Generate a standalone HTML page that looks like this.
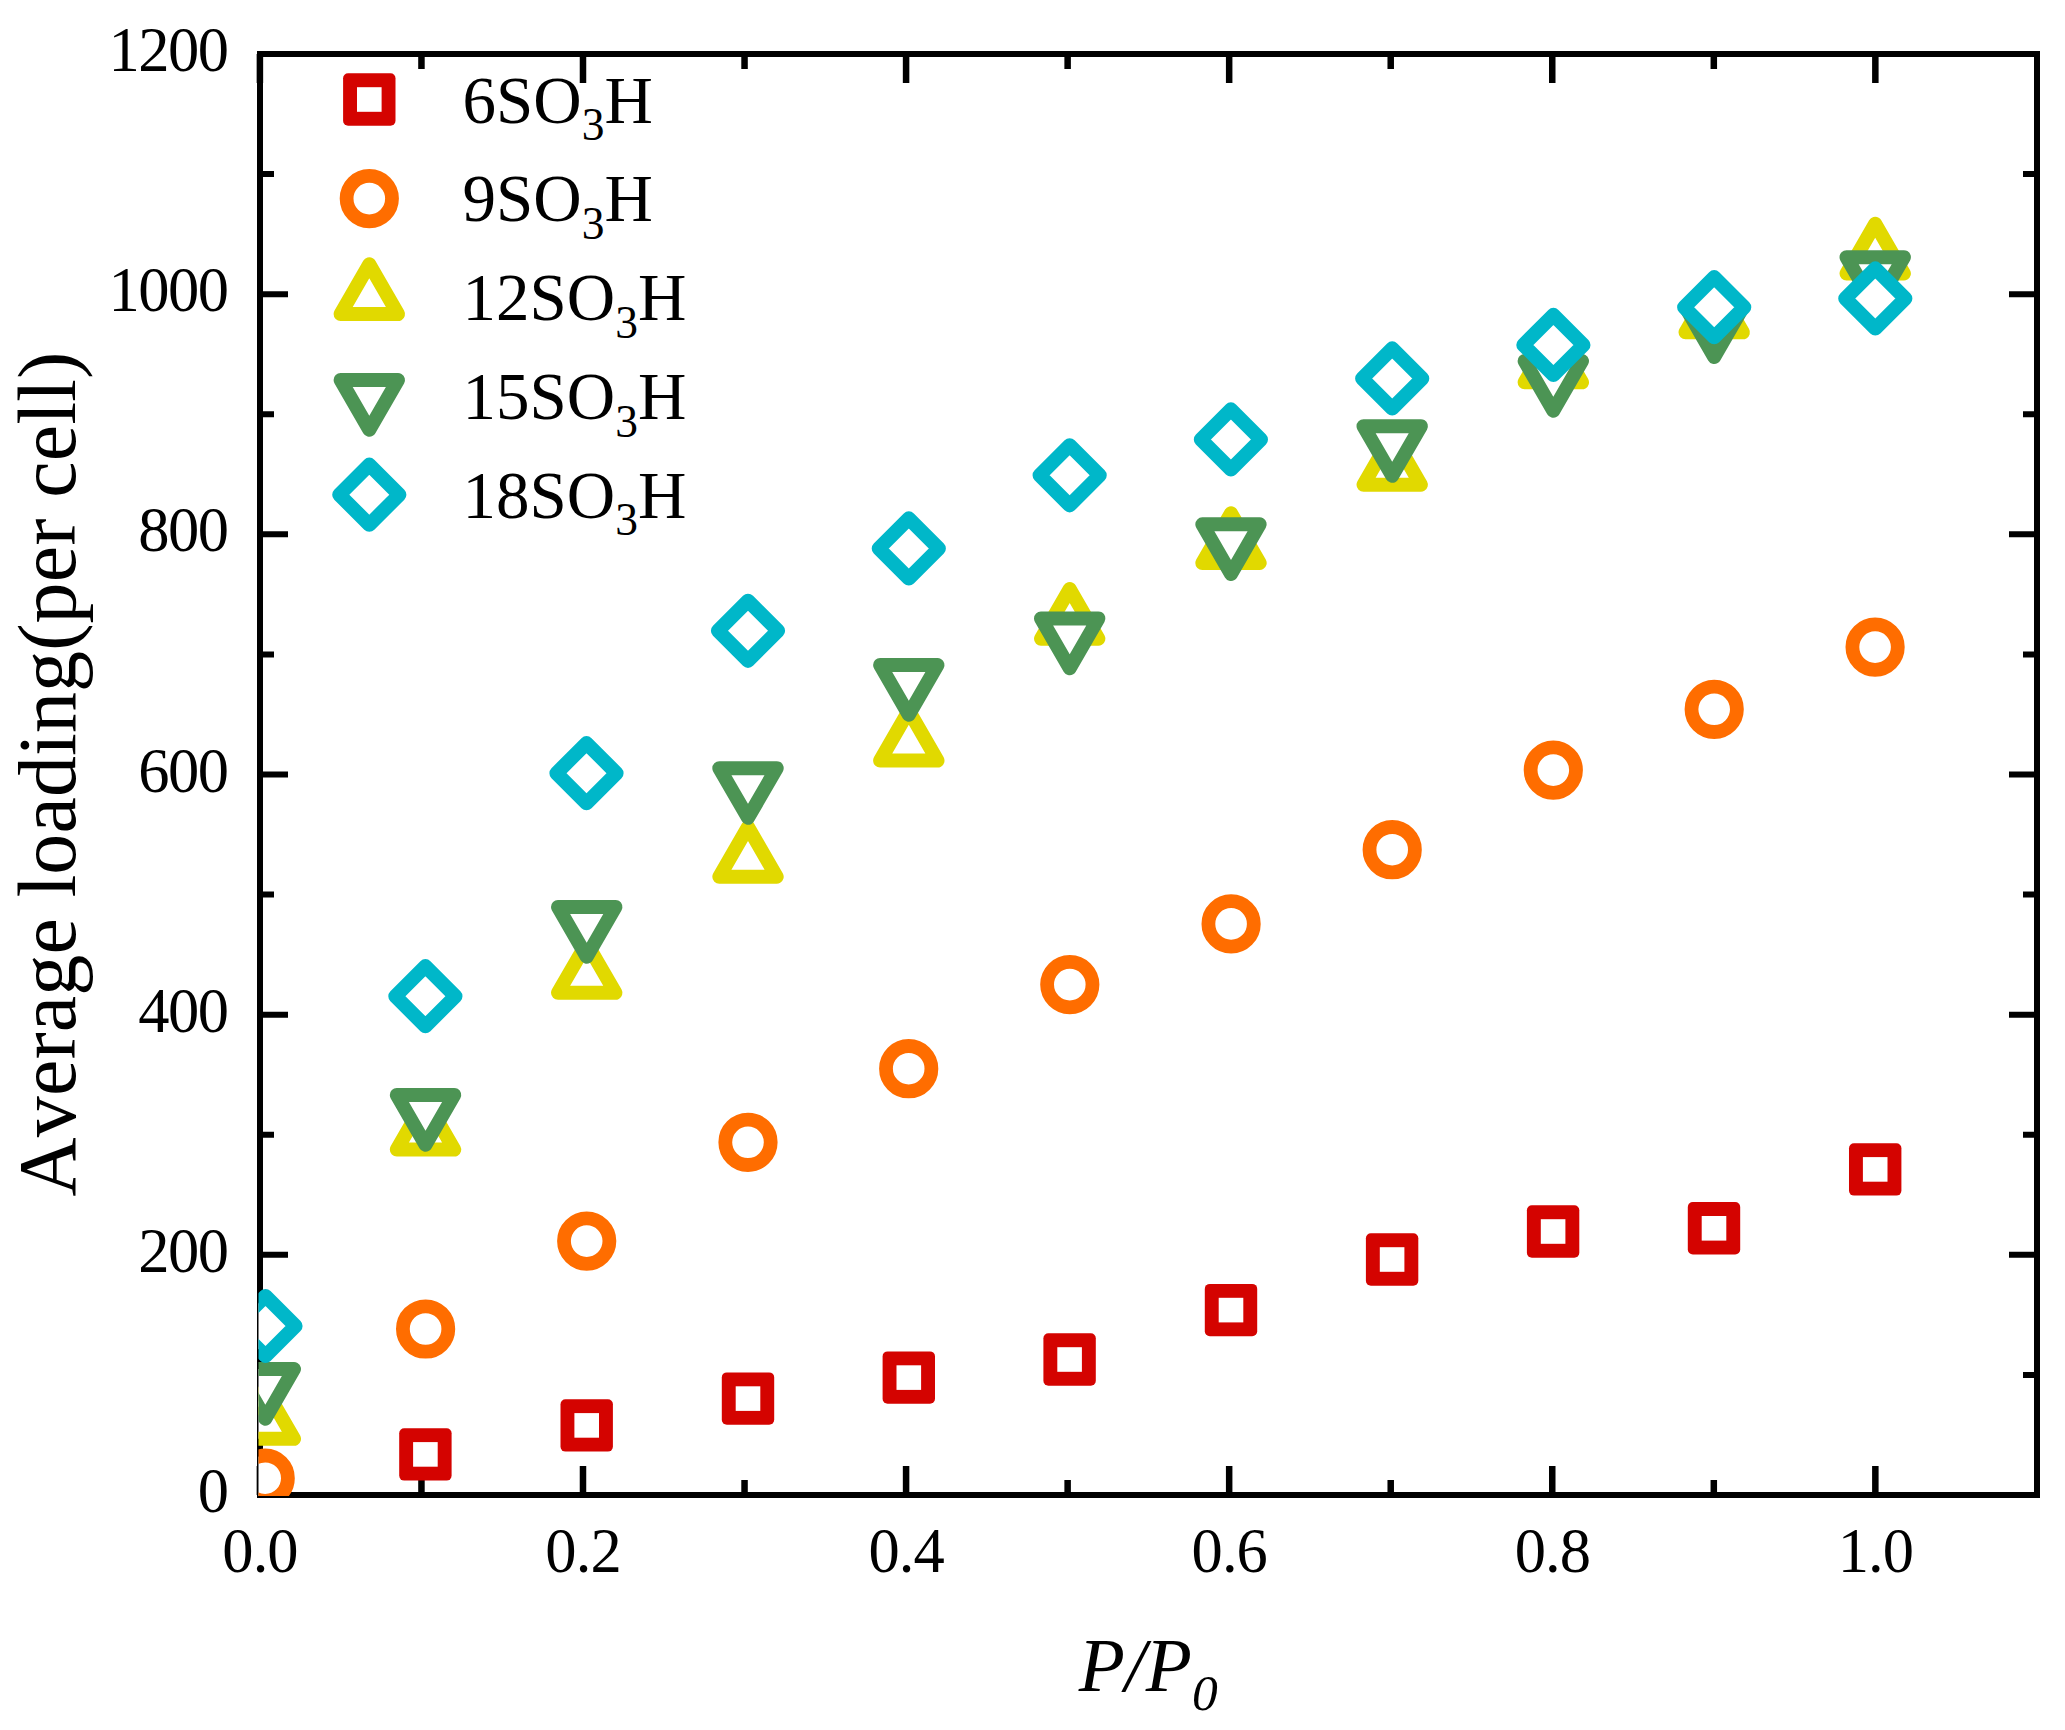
<!DOCTYPE html>
<html lang="en"><head><meta charset="utf-8"><title>Average loading vs P/P0</title>
<style>
html,body{margin:0;padding:0;background:#fff;}
body{width:2065px;height:1730px;overflow:hidden;}
svg{display:block;}
text{font-family:"Liberation Serif",serif;fill:#000;font-kerning:none;}
.tk{font-size:62.5px;}
.tx{letter-spacing:-0.9px;}
.ty{letter-spacing:-1.43px;}
.lg{font-size:67px;}
.sub{font-size:45.5px;}
</style></head><body>
<svg width="2065" height="1730" viewBox="0 0 2065 1730">
<defs>
<clipPath id="pc"><rect x="258.5" y="52.5" width="1780" height="1443.5"/></clipPath>
<g id="m-sq"><rect x="-26.2" y="-26.2" width="52.4" height="52.4" rx="5" ry="5" fill="currentColor"/><rect x="-12.3" y="-12.3" width="24.6" height="24.6" fill="#fff"/></g>
<circle id="m-ci" r="22.7" fill="#fff" stroke="currentColor" stroke-width="13.8"/>
<path id="m-up" d="M0 -33.15L28.7 16.57H-28.7Z" fill="#fff" stroke="currentColor" stroke-width="14" stroke-linejoin="round"/>
<path id="m-dn" d="M0 33.15L28.7 -16.57H-28.7Z" fill="#fff" stroke="currentColor" stroke-width="14" stroke-linejoin="round"/>
<path id="m-di" d="M0 -30L30 0L0 30L-30 0Z" fill="#fff" stroke="currentColor" stroke-width="14.2" stroke-linejoin="round"/>
</defs>
<rect width="2065" height="1730" fill="#fff"/>

<g stroke="#000" stroke-width="6" fill="none" stroke-linecap="butt">
<rect x="260.0" y="54.0" width="1777.0" height="1441.0"/>
<path stroke-width="6.5" d="M259.90 1495.0v-29M259.90 54.0v29M421.45 1495.0v-15M421.45 54.0v15M582.99 1495.0v-29M582.99 54.0v29M744.54 1495.0v-15M744.54 54.0v15M906.08 1495.0v-29M906.08 54.0v29M1067.63 1495.0v-15M1067.63 54.0v15M1229.17 1495.0v-29M1229.17 54.0v29M1390.72 1495.0v-15M1390.72 54.0v15M1552.26 1495.0v-29M1552.26 54.0v29M1713.81 1495.0v-15M1713.81 54.0v15M1875.35 1495.0v-29M1875.35 54.0v29"/>
<path d="M260.0 1495.00h28M2037.0 1495.00h-28M260.0 1374.92h14M2037.0 1374.92h-14M260.0 1254.83h28M2037.0 1254.83h-28M260.0 1134.75h14M2037.0 1134.75h-14M260.0 1014.67h28M2037.0 1014.67h-28M260.0 894.58h14M2037.0 894.58h-14M260.0 774.50h28M2037.0 774.50h-28M260.0 654.42h14M2037.0 654.42h-14M260.0 534.33h28M2037.0 534.33h-28M260.0 414.25h14M2037.0 414.25h-14M260.0 294.17h28M2037.0 294.17h-28M260.0 174.08h14M2037.0 174.08h-14M260.0 54.00h28M2037.0 54.00h-28"/>
</g>
<g class="tk tx" text-anchor="middle">
<text x="260.00" y="1571.6">0.0</text>
<text x="583.09" y="1571.6">0.2</text>
<text x="906.18" y="1571.6">0.4</text>
<text x="1229.27" y="1571.6">0.6</text>
<text x="1552.36" y="1571.6">0.8</text>
<text x="1875.45" y="1571.6">1.0</text>
</g>
<g class="tk ty" text-anchor="end">
<text x="227.7" y="1512.10">0</text>
<text x="227.7" y="1271.93">200</text>
<text x="227.7" y="1031.77">400</text>
<text x="227.7" y="791.60">600</text>
<text x="227.7" y="551.43">800</text>
<text x="227.7" y="311.27">1000</text>
<text x="227.7" y="71.10">1200</text>
</g>
<text transform="translate(74.8 774.1) rotate(-90)" text-anchor="middle" font-size="82" letter-spacing="0.1">Average loading(per cell)</text>
<text x="1078.7" y="1690.8" font-size="75.5" font-style="italic">P/P<tspan dy="19.5" dx="0" font-size="51.5">0</tspan></text>
<g clip-path="url(#pc)">
<g style="color:#D40300">
<use href="#m-sq" x="425.4" y="1454.4"/>
<use href="#m-sq" x="586.7" y="1425.4"/>
<use href="#m-sq" x="748" y="1398.6"/>
<use href="#m-sq" x="908.8" y="1377.6"/>
<use href="#m-sq" x="1069.6" y="1359.5"/>
<use href="#m-sq" x="1231" y="1310.1"/>
<use href="#m-sq" x="1392.1" y="1259.5"/>
<use href="#m-sq" x="1553.1" y="1231.5"/>
<use href="#m-sq" x="1714" y="1228.3"/>
<use href="#m-sq" x="1875.2" y="1169.4"/>
</g>
<g style="color:#FF6D00">
<use href="#m-ci" x="265.2" y="1478.2"/>
<use href="#m-ci" x="425.6" y="1329"/>
<use href="#m-ci" x="586.7" y="1241.1"/>
<use href="#m-ci" x="748" y="1142.3"/>
<use href="#m-ci" x="908.7" y="1068.7"/>
<use href="#m-ci" x="1069.8" y="984.6"/>
<use href="#m-ci" x="1231.1" y="923.9"/>
<use href="#m-ci" x="1392.2" y="849.7"/>
<use href="#m-ci" x="1553.3" y="770.1"/>
<use href="#m-ci" x="1714.2" y="709.3"/>
<use href="#m-ci" x="1875.1" y="647.1"/>
</g>
<g style="color:#E1D900">
<use href="#m-up" x="265.3" y="1422.3"/>
<use href="#m-up" x="425.5" y="1133"/>
<use href="#m-up" x="586.7" y="976.3"/>
<use href="#m-up" x="748" y="860.2"/>
<use href="#m-up" x="908.8" y="744.0"/>
<use href="#m-up" x="1069.7" y="622.2"/>
<use href="#m-up" x="1231" y="546.4"/>
<use href="#m-up" x="1392.2" y="468.2"/>
<use href="#m-up" x="1553.3" y="365.8"/>
<use href="#m-up" x="1714.2" y="315.8"/>
<use href="#m-up" x="1875.2" y="256.9"/>
</g>
<g style="color:#4C9454">
<use href="#m-dn" x="265.3" y="1385.6"/>
<use href="#m-dn" x="425.5" y="1111.5"/>
<use href="#m-dn" x="586.7" y="923.5"/>
<use href="#m-dn" x="748" y="784.7"/>
<use href="#m-dn" x="908.8" y="681.6"/>
<use href="#m-dn" x="1069.7" y="635"/>
<use href="#m-dn" x="1231" y="540.9"/>
<use href="#m-dn" x="1392.2" y="442.7"/>
<use href="#m-dn" x="1553.3" y="377.6"/>
<use href="#m-dn" x="1714.2" y="323.8"/>
<use href="#m-dn" x="1875.2" y="273.7"/>
</g>
<g style="color:#00B7C9">
<use href="#m-di" x="265.5" y="1326"/>
<use href="#m-di" x="425.4" y="996.2"/>
<use href="#m-di" x="586.5" y="773.2"/>
<use href="#m-di" x="748" y="630.8"/>
<use href="#m-di" x="908.8" y="548.4"/>
<use href="#m-di" x="1069.65" y="475.3"/>
<use href="#m-di" x="1230.9" y="439.4"/>
<use href="#m-di" x="1392.2" y="378.4"/>
<use href="#m-di" x="1553.4" y="344.9"/>
<use href="#m-di" x="1714.2" y="307.2"/>
<use href="#m-di" x="1875.3" y="298.4"/>
</g>
</g>
<use href="#m-sq" x="369.3" y="99.5" style="color:#D40300"/>
<text class="lg" x="462.5" y="122.8">6SO<tspan class="sub" dy="17.5">3</tspan><tspan dy="-17.5">H</tspan></text>
<use href="#m-ci" x="369.3" y="198.6" style="color:#FF6D00"/>
<text class="lg" x="462.5" y="221.2">9SO<tspan class="sub" dy="17.5">3</tspan><tspan dy="-17.5">H</tspan></text>
<use href="#m-up" x="369.3" y="297.5" style="color:#E1D900"/>
<text class="lg" x="462.5" y="320.0">12SO<tspan class="sub" dy="17.5">3</tspan><tspan dy="-17.5">H</tspan></text>
<use href="#m-dn" x="369.3" y="396.6" style="color:#4C9454"/>
<text class="lg" x="462.5" y="419.1">15SO<tspan class="sub" dy="17.5">3</tspan><tspan dy="-17.5">H</tspan></text>
<use href="#m-di" x="369.3" y="494.7" style="color:#00B7C9"/>
<text class="lg" x="462.5" y="517.9">18SO<tspan class="sub" dy="17.5">3</tspan><tspan dy="-17.5">H</tspan></text>
</svg></body></html>
